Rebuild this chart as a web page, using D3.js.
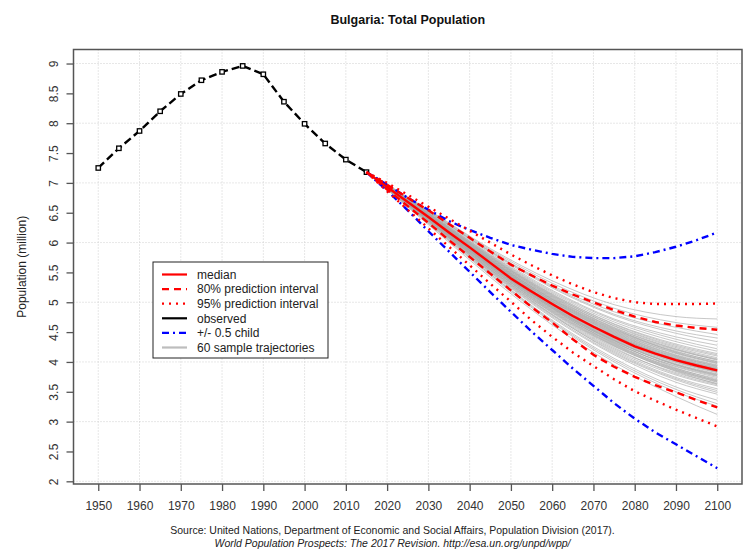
<!DOCTYPE html>
<html><head><meta charset="utf-8">
<script src="https://cdn.jsdelivr.net/npm/d3@7"></script>
<style>body{margin:0;background:#fff}svg{display:block;font-family:"Liberation Sans",Arial,sans-serif}</style>
</head><body><svg id="c" width="750" height="557"></svg>
<script>
// ---------- data ----------
const obsYears = [1950,1955,1960,1965,1970,1975,1980,1985,1990,1995,2000,2005,2010,2015];
const observed = [7.25,7.58,7.87,8.20,8.49,8.72,8.86,8.96,8.82,8.36,7.99,7.66,7.39,7.18];

const projYears = [2015,2020,2025,2030,2035,2040,2045,2050,2055,2060,2065,2070,2075,2080,2085,2090,2095,2100];
const median  = [7.18,6.93,6.68,6.43,6.17,5.92,5.66,5.40,5.18,4.97,4.77,4.59,4.42,4.26,4.14,4.03,3.94,3.86];
const upper80 = [7.18,6.97,6.75,6.54,6.31,6.08,5.85,5.63,5.45,5.28,5.13,5.00,4.87,4.76,4.67,4.61,4.57,4.54];
const lower80 = [7.18,6.89,6.61,6.33,6.04,5.76,5.48,5.20,4.92,4.66,4.38,4.12,3.92,3.75,3.61,3.49,3.36,3.24];
const upper95 = [7.18,7.00,6.80,6.60,6.40,6.20,6.00,5.80,5.62,5.45,5.30,5.17,5.07,5.00,4.97,4.97,4.97,4.98];
const lower95 = [7.18,6.86,6.55,6.24,5.93,5.62,5.31,5.01,4.70,4.42,4.16,3.93,3.71,3.51,3.35,3.20,3.06,2.92];
const childHigh = [7.18,6.97,6.75,6.55,6.36,6.21,6.08,5.96,5.88,5.81,5.76,5.74,5.74,5.77,5.84,5.93,6.04,6.17];
const childLow  = [7.18,6.87,6.54,6.19,5.85,5.51,5.17,4.84,4.51,4.20,3.89,3.60,3.31,3.05,2.82,2.62,2.42,2.22];

const sampleYears = [2015,2030,2045,2060,2075,2090,2100];
const samples = [
[7.18,6.45,5.70,5.02,4.48,4.10,3.92],[7.18,6.40,5.60,4.90,4.35,3.95,3.78],[7.18,6.48,5.76,5.10,4.58,4.22,4.05],
[7.18,6.38,5.55,4.82,4.22,3.82,3.64],[7.18,6.50,5.80,5.18,4.70,4.38,4.22],[7.18,6.42,5.64,4.95,4.40,4.02,3.85],
[7.18,6.36,5.52,4.78,4.18,3.74,3.55],[7.18,6.46,5.72,5.06,4.55,4.20,4.04],[7.18,6.44,5.68,4.99,4.44,4.05,3.88],
[7.18,6.52,5.84,5.24,4.78,4.48,4.34],[7.18,6.41,5.62,4.92,4.34,3.90,3.70],[7.18,6.39,5.58,4.88,4.32,3.93,3.76],
[7.18,6.47,5.74,5.08,4.56,4.16,3.98],[7.18,6.43,5.66,4.97,4.42,4.03,3.86],[7.18,6.35,5.50,4.74,4.12,3.66,3.46],
[7.18,6.49,5.78,5.14,4.64,4.30,4.14],[7.18,6.44,5.69,5.01,4.47,4.08,3.91],[7.18,6.37,5.54,4.80,4.20,3.78,3.60],
[7.18,6.53,5.86,5.28,4.84,4.58,4.46],[7.18,6.42,5.63,4.93,4.37,3.97,3.80],[7.18,6.46,5.71,5.04,4.50,4.12,3.95],
[7.18,6.40,5.61,4.91,4.33,3.92,3.74],[7.18,6.34,5.48,4.70,4.06,3.58,3.36],[7.18,6.48,5.75,5.11,4.61,4.26,4.10],
[7.18,6.45,5.67,4.98,4.45,4.06,3.90],[7.18,6.41,5.60,4.89,4.30,3.88,3.68],[7.18,6.51,5.82,5.20,4.72,4.42,4.28],
[7.18,6.43,5.65,4.96,4.41,4.01,3.83],[7.18,6.38,5.56,4.84,4.26,3.85,3.66],[7.18,6.47,5.73,5.07,4.54,4.18,4.00],
[7.18,6.44,5.68,5.00,4.46,4.09,3.93],[7.18,6.32,5.45,4.66,4.00,3.50,3.26],[7.18,6.54,5.88,5.32,4.90,4.66,4.58],
[7.18,6.42,5.64,4.94,4.38,3.99,3.82],[7.18,6.46,5.70,5.03,4.51,4.14,3.97],[7.18,6.39,5.57,4.86,4.28,3.86,3.67],
[7.18,6.49,5.77,5.13,4.63,4.28,4.12],[7.18,6.43,5.66,4.97,4.43,4.04,3.87],[7.18,6.37,5.53,4.79,4.16,3.72,3.52],
[7.18,6.45,5.69,5.02,4.49,4.11,3.94],[7.18,6.50,5.79,5.16,4.67,4.34,4.18],[7.18,6.41,5.62,4.92,4.36,3.96,3.79],
[7.18,6.44,5.67,4.99,4.44,4.07,3.89],[7.18,6.36,5.51,4.76,4.14,3.70,3.49],[7.18,6.55,5.90,5.36,4.96,4.76,4.72],
[7.18,6.43,5.65,4.95,4.39,4.00,3.84],[7.18,6.47,5.74,5.09,4.57,4.21,4.03],[7.18,6.40,5.59,4.87,4.29,3.87,3.69],
[7.18,6.45,5.71,5.05,4.52,4.15,3.99],[7.18,6.42,5.63,4.93,4.36,3.95,3.77],[7.18,6.33,5.47,4.68,4.03,3.54,3.30],
[7.18,6.48,5.76,5.12,4.60,4.24,4.07],[7.18,6.44,5.67,4.98,4.43,4.05,3.88],[7.18,6.38,5.55,4.83,4.24,3.80,3.62],
[7.18,6.52,5.85,5.26,4.80,4.52,4.40],[7.18,6.46,5.72,5.05,4.53,4.17,4.01],[7.18,6.41,5.61,4.90,4.31,3.89,3.72],
[7.18,6.43,5.66,4.96,4.42,4.02,3.85],[7.18,6.39,5.58,4.85,4.27,3.84,3.63],[7.18,6.30,5.42,4.62,3.95,3.42,3.12]
];

const xTicks = [1950,1960,1970,1980,1990,2000,2010,2020,2030,2040,2050,2060,2070,2080,2090,2100];
const yTicks = [2,2.5,3,3.5,4,4.5,5,5.5,6,6.5,7,7.5,8,8.5,9];
const yGrid = [2,3,4,5,6,7,8,9];

const title = "Bulgaria: Total Population";
const yLabel = "Population (million)";
const source1 = "Source: United Nations, Department of Economic and Social Affairs, Population Division (2017).";
const source2 = "World Population Prospects: The 2017 Revision.  http://esa.un.org/unpd/wpp/";
const legendItems = [
  {label:"median", color:"#ff0000", dash:null},
  {label:"80% prediction interval", color:"#ff0000", dash:"7,5"},
  {label:"95% prediction interval", color:"#ff0000", dash:"2,5"},
  {label:"observed", color:"#000000", dash:null},
  {label:"+/- 0.5 child", color:"#0000ff", dash:"7,4,2,4"},
  {label:"60 sample trajectories", color:"#bdbdbd", dash:null}
];

// ---------- drawing ----------
const svg = d3.select("#c");
const L = 73.5, R = 742, T = 49.5, B = 484;
const x = d3.scaleLinear().domain([1944, 2106]).range([L, R]);
const y = d3.scaleLinear().domain([1.955, 9.235]).range([B, T]);

// grid
svg.append("g").selectAll("line").data(xTicks).join("line")
  .attr("x1", d => x(d)).attr("x2", d => x(d)).attr("y1", T).attr("y2", B)
  .attr("stroke", "#cfcfcf").attr("stroke-width", 1).attr("stroke-dasharray", "1,2");
svg.append("g").selectAll("line").data(yGrid).join("line")
  .attr("x1", L).attr("x2", R).attr("y1", d => y(d)).attr("y2", d => y(d))
  .attr("stroke", "#cfcfcf").attr("stroke-width", 1).attr("stroke-dasharray", "1,2");

const line = (xs) => d3.line().x((d, i) => x(xs[i])).y(d => y(d));

// sample trajectories
const sLine = line(sampleYears).curve(d3.curveMonotoneX);
svg.append("g").selectAll("path").data(samples).join("path")
  .attr("d", sLine).attr("fill", "none").attr("stroke", "#a6a6a6")
  .attr("stroke-opacity", 0.7).attr("stroke-width", 0.9);

// observed
const oLine = line(obsYears);
svg.append("path").datum(observed).attr("d", oLine).attr("fill", "none")
  .attr("stroke", "#000").attr("stroke-width", 2.4).attr("stroke-dasharray", "8,4");
svg.append("g").selectAll("rect").data(observed).join("rect")
  .attr("x", (d, i) => x(obsYears[i]) - 2.2).attr("y", d => y(d) - 2.2)
  .attr("width", 4.4).attr("height", 4.4).attr("fill", "#fff").attr("stroke", "#000").attr("stroke-width", 1.3);

// projections
const pLine = line(projYears);
const proj = [
  {v: childHigh, c: "#0000ff", dash: "7,4,2,4"},
  {v: childLow,  c: "#0000ff", dash: "7,4,2,4"},
  {v: upper95, c: "#ff0000", dash: "2,5"},
  {v: lower95, c: "#ff0000", dash: "2,5"},
  {v: upper80, c: "#ff0000", dash: "7,5"},
  {v: lower80, c: "#ff0000", dash: "7,5"},
  {v: median,  c: "#ff0000", dash: null}
];
svg.append("g").selectAll("path").data(proj).join("path")
  .attr("d", d => pLine(d.v)).attr("fill", "none").attr("stroke", d => d.c)
  .attr("stroke-width", 2.4).attr("stroke-dasharray", d => d.dash);

// box
svg.append("rect").attr("x", L).attr("y", T).attr("width", R - L).attr("height", B - T)
  .attr("fill", "none").attr("stroke", "#555").attr("stroke-width", 1.5);

// axes
const xAxis = svg.append("g").attr("transform", `translate(0,${B})`)
  .call(d3.axisBottom(x).tickValues(xTicks).tickFormat(d3.format("d")).tickSize(7).tickPadding(10));
xAxis.select(".domain").remove();
xAxis.selectAll("line").attr("stroke", "#555").attr("stroke-width", 1.3);
xAxis.selectAll("text").attr("font-size", 12).attr("fill", "#333").attr("font-family", "Liberation Sans, Arial, sans-serif");

const yAxis = svg.append("g").attr("transform", `translate(${L},0)`)
  .call(d3.axisLeft(y).tickValues(yTicks).tickFormat(d => String(d)).tickSize(7));
yAxis.select(".domain").remove();
yAxis.selectAll("line").attr("stroke", "#555").attr("stroke-width", 1.3);
yAxis.selectAll("text").attr("font-size", 12).attr("fill", "#333")
  .attr("font-family", "Liberation Sans, Arial, sans-serif")
  .attr("x", null).attr("dy", null)
  .attr("text-anchor", "middle")
  .attr("transform", d => `translate(-20,0) rotate(-90)`)
  .attr("dy", "0.35em");

// titles
svg.append("text").attr("x", (L + R) / 2).attr("y", 24).attr("text-anchor", "middle")
  .attr("font-size", 12.5).attr("font-weight", "bold").attr("fill", "#111").text(title);
svg.append("text").attr("transform", `translate(26,${(T + B) / 2}) rotate(-90)`)
  .attr("text-anchor", "middle").attr("font-size", 12).attr("fill", "#222").text(yLabel);
svg.append("text").attr("x", 392.5).attr("y", 534).attr("text-anchor", "middle")
  .attr("font-size", 10.5).attr("fill", "#222").text(source1);
svg.append("text").attr("x", 392.5).attr("y", 547).attr("text-anchor", "middle")
  .attr("font-size", 10.5).attr("font-style", "italic").attr("fill", "#222").text(source2);

// legend
const lg = svg.append("g");
lg.append("rect").attr("x", 153).attr("y", 262).attr("width", 175).attr("height", 96)
  .attr("fill", "#fff").attr("stroke", "#222").attr("stroke-width", 1);
const rows = lg.selectAll("g.row").data(legendItems).join("g").attr("class", "row")
  .attr("transform", (d, i) => `translate(0,${274.5 + i * 14.6})`);
rows.append("line").attr("x1", 162).attr("x2", 187).attr("y1", 0).attr("y2", 0)
  .attr("stroke", d => d.color).attr("stroke-width", 2.2).attr("stroke-dasharray", d => d.dash);
rows.append("text").attr("x", 197).attr("y", 0).attr("dy", "0.35em").attr("font-size", 12)
  .attr("fill", "#222").text(d => d.label);
</script></body></html>
